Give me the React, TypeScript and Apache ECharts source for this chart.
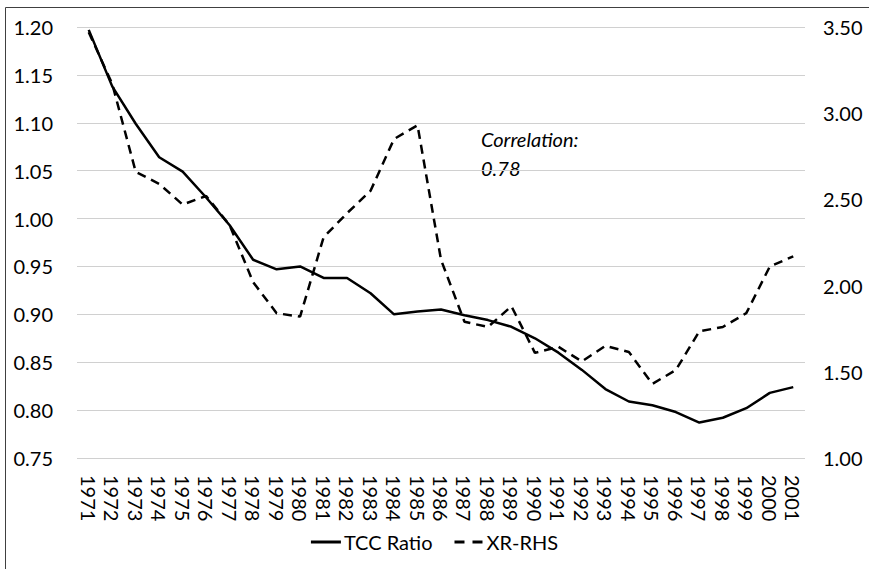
import React, { useEffect, useRef } from "react";
import * as echarts from "echarts";

const years = [
  "1971","1972","1973","1974","1975","1976","1977","1978","1979","1980",
  "1981","1982","1983","1984","1985","1986","1987","1988","1989","1990",
  "1991","1992","1993","1994","1995","1996","1997","1998","1999","2000","2001",
];
const tccRatio = [
  1.197, 1.138, 1.099, 1.064, 1.049, 1.022, 0.993, 0.957, 0.947, 0.950,
  0.938, 0.938, 0.922, 0.900, 0.903, 0.905, 0.899, 0.894, 0.887, 0.875,
  0.860, 0.842, 0.822, 0.809, 0.805, 0.798, 0.787, 0.792, 0.802, 0.818, 0.824,
];
const xrRhs = [
  3.47, 3.17, 2.66, 2.59, 2.47, 2.52, 2.35, 2.02, 1.84, 1.82,
  2.28, 2.42, 2.55, 2.85, 2.93, 2.15, 1.79, 1.76, 1.88, 1.61,
  1.645, 1.56, 1.65, 1.615, 1.43, 1.51, 1.735, 1.76, 1.84, 2.11, 2.17,
];
const seriesNames = ["TCC Ratio", "XR-RHS"];
const annotation = ["Correlation:", "0.78"];

const FONT = "Lato";
const FS = 20;

export default function App() {
  const ref = useRef<HTMLDivElement>(null);
  useEffect(() => {
    if (!ref.current) return;
    const chart = echarts.init(ref.current, null, { renderer: "svg" });
    chart.setOption({
      animation: false,
      backgroundColor: "#ffffff",
      textStyle: { fontFamily: FONT },
      grid: { left: 77, right: 64, top: 27, bottom: 111 },
      legend: {
        bottom: 12,
        left: "center",
        itemWidth: 30,
        itemHeight: 3,
        itemGap: 22,
        textStyle: { fontFamily: FONT, fontSize: FS, color: "#000", padding: [0, 0, 0, -2] },
        data: [
          { name: seriesNames[0], icon: "path://M0,0h30v3h-30z" },
          { name: seriesNames[1], icon: "path://M0,0h10v3h-10zM18,0h10v3h-10z" },
        ],
      },
      xAxis: {
        type: "category",
        data: years,
        boundaryGap: true,
        axisLine: { show: false },
        axisTick: { show: false },
        axisLabel: {
          rotate: -90,
          interval: 0,
          margin: 17,
          fontFamily: FONT,
          fontSize: FS,
          color: "#000",
        },
      },
      yAxis: [
        {
          type: "value",
          min: 0.75,
          max: 1.2,
          interval: 0.05,
          axisLine: { show: false },
          axisTick: { show: false },
          splitLine: { lineStyle: { color: "#d0d0d0", width: 1 } },
          axisLabel: {
            margin: 24,
            fontFamily: FONT,
            fontSize: FS,
            color: "#000",
            formatter: (v: number) => v.toFixed(2),
          },
        },
        {
          type: "value",
          min: 1,
          max: 3.5,
          interval: 0.5,
          position: "right",
          axisLine: { show: false },
          axisTick: { show: false },
          splitLine: { show: false },
          axisLabel: {
            margin: 18,
            fontFamily: FONT,
            fontSize: FS,
            color: "#000",
            formatter: (v: number) => v.toFixed(2),
          },
        },
      ],
      series: [
        {
          name: seriesNames[0],
          type: "line",
          data: tccRatio,
          yAxisIndex: 0,
          symbol: "none",
          lineStyle: { color: "#000", width: 2.5 },
          itemStyle: { color: "#000" },
        },
        {
          name: seriesNames[1],
          type: "line",
          data: xrRhs,
          yAxisIndex: 1,
          symbol: "none",
          lineStyle: { color: "#000", width: 2.5, type: [9, 6] },
          itemStyle: { color: "#000" },
        },
      ],
      graphic: [
        {
          type: "rect",
          silent: true,
          shape: { x: 5.5, y: 7.5, width: 900, height: 600 },
          style: { fill: "none", stroke: "#404040", lineWidth: 1 },
        },
        {
          type: "text",
          left: 481,
          top: 124,
          style: {
            text: annotation.join("\n"),
            fontFamily: FONT,
            fontStyle: "italic",
            fontSize: FS,
            lineHeight: 29,
            fill: "#000",
          },
        },
      ],
    });
    return () => chart.dispose();
  }, []);
  return (
    <div
      ref={ref}
      style={{ position: "fixed", left: 0, top: 0, width: 869, height: 569 }}
    />
  );
}
